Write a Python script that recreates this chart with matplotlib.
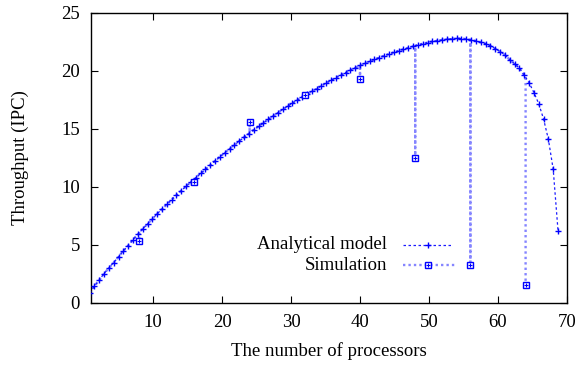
import matplotlib.pyplot as plt

plt.rcParams['font.family'] = ['Liberation Serif', 'DejaVu Serif']
plt.rcParams['font.size'] = 13.5

# analytical model: throughput vs. number of processors
model_x = [0.8, 1.5, 2.2, 2.9, 3.6, 4.3, 5.0, 5.7, 6.4, 7.1,
           7.8, 8.5, 9.2, 9.9, 10.6, 11.3, 12.0, 12.7, 13.4, 14.1,
           14.8, 15.5, 16.2, 16.9, 17.6, 18.3, 19.0, 19.7, 20.4, 21.1,
           21.8, 22.5, 23.2, 23.9, 24.6, 25.3, 26.0, 26.7, 27.4, 28.1,
           28.8, 29.5, 30.2, 30.9, 31.6, 32.3, 33.0, 33.7, 34.4, 35.1,
           35.8, 36.5, 37.2, 37.9, 38.6, 39.3, 40.0, 40.7, 41.4, 42.1,
           42.8, 43.5, 44.2, 44.9, 45.6, 46.3, 47.0, 47.7, 48.4, 49.1,
           49.8, 50.5, 51.2, 51.9, 52.6, 53.3, 54.0, 54.7, 55.4, 56.1,
           56.8, 57.5, 58.2, 58.9, 59.6, 60.3, 61.0, 61.7, 62.4, 63.1,
           63.8, 64.5, 65.2, 65.9, 66.6, 67.3, 68.0, 68.7]
model_y = [0.85, 1.42, 1.96, 2.50, 3.00, 3.46, 3.96, 4.47, 4.92, 5.43,
           5.90, 6.35, 6.80, 7.22, 7.66, 8.08, 8.48, 8.88, 9.27, 9.66,
           10.04, 10.42, 10.78, 11.14, 11.50, 11.86, 12.22, 12.58, 12.93, 13.27,
           13.60, 13.93, 14.26, 14.58, 14.90, 15.20, 15.50, 15.80, 16.10, 16.38,
           16.66, 16.94, 17.20, 17.46, 17.72, 17.97, 18.22, 18.46, 18.70, 18.94,
           19.17, 19.40, 19.62, 19.84, 20.05, 20.25, 20.45, 20.63, 20.80, 20.97,
           21.13, 21.29, 21.44, 21.58, 21.72, 21.85, 21.98, 22.10, 22.22, 22.33,
           22.43, 22.52, 22.60, 22.67, 22.72, 22.76, 22.78, 22.77, 22.73, 22.66,
           22.57, 22.45, 22.33, 22.15, 21.90, 21.65, 21.37, 20.95, 20.60, 20.22,
           19.62, 18.97, 18.12, 17.16, 15.84, 14.09, 11.50, 6.20]

# simulation results, and the model throughput at the same processor counts
sim_x = [8, 16, 24, 32, 40, 48, 56, 64]
sim_y = [5.3, 10.43, 15.55, 17.9, 19.28, 12.45, 3.25, 1.53]
sim_model = [6.0, 10.6, 14.65, 18.0, 20.45, 22.15, 22.66, 19.3]

# simulation trace: follows the model and drops straight to each measurement
trace_x, trace_y = [], []
j = 0
for x, y in zip(model_x, model_y):
    while j < len(sim_x) and sim_x[j] <= x:
        trace_x += [sim_x[j]] * 3
        trace_y += [sim_model[j], sim_y[j], sim_model[j]]
        j += 1
    if x >= sim_x[-1]:
        break
    trace_x.append(x)
    trace_y.append(y)
trace_x, trace_y = trace_x[:-1], trace_y[:-1]

model_color = '#1a1aff'
sim_color = '#8585ff'
sim_ls = (0, (1, 1.3))

fig = plt.figure(figsize=(5.81, 3.67), dpi=100)
ax = fig.add_axes([0.1565, 0.1752, 0.9759 - 0.1565, 0.9654 - 0.1752])

ax.plot(trace_x, trace_y, color=sim_color, lw=1.7, ls=sim_ls, zorder=2)
ax.plot(model_x, model_y, color=model_color, lw=0.9, ls=(0, (2, 2)),
        marker='+', ms=5, mew=1.0, mec='#0000ff', zorder=3)
ax.plot(sim_x, sim_y, ls='none', marker='s', ms=5, mew=1.0,
        mfc='white', mec='#0000ff', zorder=4)
ax.plot(sim_x, sim_y, ls='none', marker='+', ms=2.5, mew=0.8,
        mec='#0000ff', zorder=5)

# key, gnuplot style: right-aligned titles with samples to their right
ky1, ky2 = 0.199, 0.130
ax.text(0.622, ky1, 'Analytical model', transform=ax.transAxes,
        ha='right', va='center')
ax.text(0.622, ky2, 'Simulation', transform=ax.transAxes,
        ha='right', va='center')
ax.plot([0.655, 0.759], [ky1, ky1], transform=ax.transAxes,
        color=model_color, lw=0.9, ls=(0, (2, 2)))
ax.plot([0.707], [ky1], transform=ax.transAxes, marker='+', ms=5,
        mew=1.0, color='#0000ff')
ax.plot([0.655, 0.765], [ky2, ky2], transform=ax.transAxes,
        color=sim_color, lw=1.7, ls=sim_ls)
ax.plot([0.707], [ky2], transform=ax.transAxes, marker='s', ms=5,
        mew=1.0, mfc='white', mec='#0000ff')
ax.plot([0.707], [ky2], transform=ax.transAxes, marker='+', ms=2.5,
        mew=0.8, color='#0000ff')

ax.set_xlim(1, 70)
ax.set_ylim(0, 25)
ax.set_xticks([10, 20, 30, 40, 50, 60, 70])
ax.set_yticks([0, 5, 10, 15, 20, 25])
ax.tick_params(direction='in', length=5, width=0.8, top=True, right=True,
               pad=8, labelsize=13.5)
for s in ax.spines.values():
    s.set_linewidth(1.0)

ax.set_xlabel('The number of processors', labelpad=8)
ax.set_ylabel('Throughput (IPC)', labelpad=23)

fig.savefig('out.png', dpi=100)
